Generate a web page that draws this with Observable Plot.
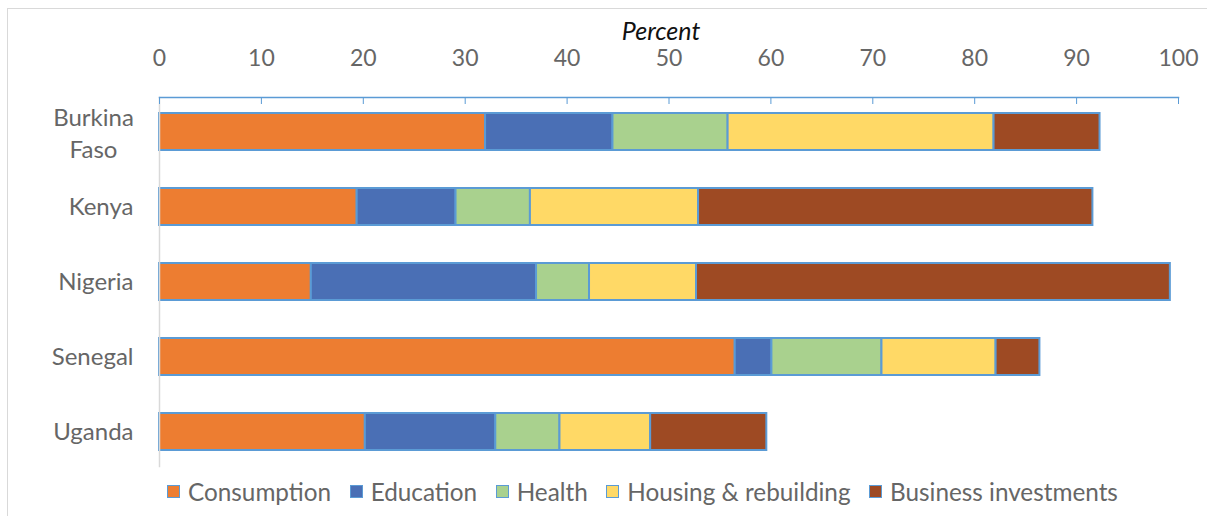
<!DOCTYPE html>
<html><head><meta charset="utf-8">
<script src="https://cdn.jsdelivr.net/npm/d3@7"></script>
<script src="https://cdn.jsdelivr.net/npm/@observablehq/plot@0.6"></script>
<style>
body{margin:0;background:#fff;font-family:Lato, sans-serif;}
#wrap{position:relative;width:1207px;height:516px;overflow:hidden;background:#fff;}
#border{position:absolute;left:7px;top:8px;width:1300px;height:600px;border-left:1px solid #d9d9d9;border-top:1px solid #d9d9d9;}
#chart{position:absolute;left:0;top:0;}
#legend{position:absolute;left:167px;top:477px;display:flex;align-items:center;font-size:24.3px;color:#666;white-space:nowrap;}
.item{display:flex;align-items:center;margin-right:18.5px;}
.sw{width:11px;height:11px;border:1.5px solid #5B9BD5;margin-right:8px;}
</style></head><body>
<div id="wrap"><div id="border"></div><div id="chart"></div><div id="legend"></div></div>
<script>
const countries = ["Burkina Faso", "Kenya", "Nigeria", "Senegal", "Uganda"];
const categories = ["Consumption", "Education", "Health", "Housing & rebuilding", "Business investments"];
const colors = ["#ED7D31", "#4A6FB5", "#A9D18E", "#FFD966", "#9E4A23"];
const consumption = [32.0, 19.4, 14.9, 56.5, 20.2];
const education = [12.5, 9.7, 22.1, 3.6, 12.8];
const health = [11.3, 7.3, 5.2, 10.8, 6.3];
const housing = [26.1, 16.5, 10.5, 11.2, 8.9];
const business = [10.4, 38.7, 46.5, 4.3, 11.4];
const xTicks = [0, 10, 20, 30, 40, 50, 60, 70, 80, 90, 100];
const axisTitle = "Percent";

const series = [consumption, education, health, housing, business];
const data = [];
countries.forEach((c, i) => {
  categories.forEach((cat, j) => {
    data.push({country: c, category: cat, value: series[j][i]});
  });
});
const wrapped = countries.filter(c => c.includes(" "));

const chart = Plot.plot({
  width: 1207, height: 476,
  marginLeft: 159, marginRight: 29, marginTop: 97, marginBottom: 10,
  style: {fontFamily: "Lato, sans-serif", fontSize: "23px", color: "#666", background: "transparent"},
  x: {domain: [0, 100]},
  y: {domain: countries, paddingInner: 0.51, paddingOuter: 0.2},
  color: {domain: categories, range: colors},
  marks: [
    Plot.barX(data, {y: "country", x: "value", fill: "category", stroke: "#5B9BD5", strokeWidth: 2}),
    Plot.frame({anchor: "left", stroke: "#d9d9d9", strokeWidth: 1.5}),
    Plot.frame({anchor: "top", stroke: "#5B9BD5", strokeWidth: 1.5}),
    Plot.axisX({anchor: "top", ticks: xTicks, tickSize: -6, tickFormat: () => "", stroke: "#5B9BD5", strokeOpacity: 1, label: null}),
    Plot.axisX({anchor: "top", ticks: xTicks, tickSize: 0, tickPadding: 32, label: null, fill: "#666"}),
    Plot.axisY({tickSize: 0, tickPadding: 26, label: null, tickFormat: d => d.includes(" ") ? "" : d, fill: "#666", fontSize: 24}),
    Plot.text(wrapped, {y: d => d, text: d => d.replace(" ", "\n"), frameAnchor: "left", dx: -66, textAnchor: "middle", lineHeight: 1.3, fill: "#666", fontSize: 24}),
    Plot.text([axisTitle], {text: d => d, frameAnchor: "top", lineAnchor: "middle", dy: -66, dx: -8, fontStyle: "italic", fill: "#111", fontSize: 25})
  ]
});
document.getElementById("chart").appendChild(chart);

const legend = document.getElementById("legend");
categories.forEach((cat, j) => {
  const it = document.createElement("div");
  it.className = "item";
  const sw = document.createElement("span");
  sw.className = "sw";
  sw.style.background = colors[j];
  const tx = document.createElement("span");
  tx.textContent = cat;
  it.appendChild(sw); it.appendChild(tx);
  legend.appendChild(it);
});
</script>
</body></html>
